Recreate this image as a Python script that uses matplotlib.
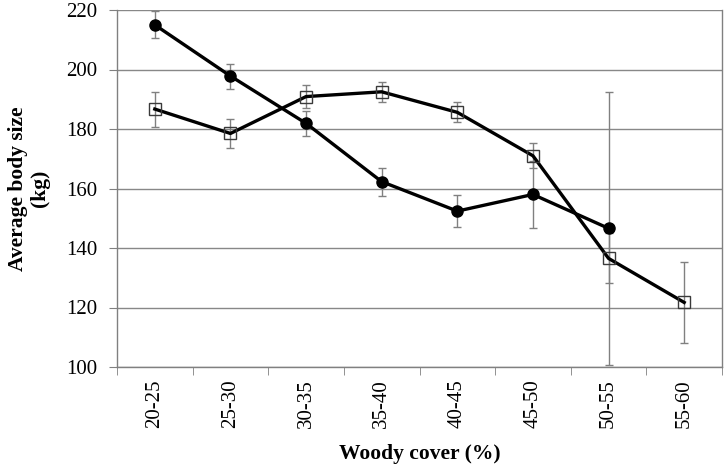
import matplotlib
matplotlib.use("Agg")
import matplotlib.pyplot as plt
import numpy as np

categories = ["20-25", "25-30", "30-35", "35-40", "40-45", "45-50", "50-55", "55-60"]
circle_vals = [215.0, 197.8, 181.9, 162.3, 152.4, 158.0, 146.6]
circle_err = [4.5, 4.2, 4.2, 4.7, 5.5, 11.2, 46.0]
square_vals = [186.7, 178.5, 190.9, 192.5, 185.6, 171.0, 136.5, 121.7]
square_err = [5.9, 4.8, 4.0, 3.3, 3.4, 4.2, 8.4, 13.6]
y_ticks = [100, 120, 140, 160, 180, 200, 220]

plt.rcParams['font.family'] = ['Liberation Serif', 'DejaVu Serif']

fig = plt.figure(figsize=(7.25, 4.71), dpi=100)
ax = fig.add_axes([117/725, 1-367/471, (722-117)/725, (367-10)/471])

xc = np.arange(len(categories))
xs = xc[:len(circle_vals)]

ax.errorbar(xc, square_vals, yerr=square_err, fmt='none', ecolor='#808080',
            elinewidth=1.0, capsize=3, capthick=1.0, zorder=2)
ax.errorbar(xs, circle_vals, yerr=circle_err, fmt='none', ecolor='#808080',
            elinewidth=1.0, capsize=3, capthick=1.0, zorder=2)
ax.plot(xc, square_vals, color='black', lw=2.4, zorder=3)
ax.plot(xc, square_vals, ls='none', marker='s', ms=8, mfc='none',
        mec='#3a3a3a', mew=1.0, zorder=4)
ax.plot(xs, circle_vals, color='black', lw=2.4, marker='o', ms=8,
        mfc='black', mec='black', zorder=5)

ax.set_xlim(-0.5, len(categories) - 0.5)
ax.set_ylim(100, 220)
ax.set_yticks(y_ticks)
ax.set_yticklabels([str(v) for v in y_ticks], fontsize=15)
ax.yaxis.grid(True, color='#888888', lw=1.0)
ax.set_axisbelow(True)

ax.set_xticks(xc)
ax.set_xticklabels(categories, rotation=90, fontsize=15)
ax.tick_params(axis='x', length=0, pad=9)
ax.set_xticks(np.arange(-0.5, len(categories) + 0.5, 1), minor=True)
ax.tick_params(axis='x', which='minor', length=6, color='#808080', direction='out')
ax.tick_params(axis='y', length=6, color='#808080', direction='out', pad=8)

for s in ['left', 'bottom', 'right']:
    ax.spines[s].set_color('#808080')
    ax.spines[s].set_linewidth(1.0)
ax.spines['top'].set_visible(False)

ax.set_xlabel('Woody cover (%)', fontsize=15.5, fontweight='bold', labelpad=11)
ax.set_ylabel('Average body size\n(kg)', fontsize=15.5, fontweight='bold', labelpad=12,
              linespacing=1.1)

fig.savefig('out.png', dpi=100)
